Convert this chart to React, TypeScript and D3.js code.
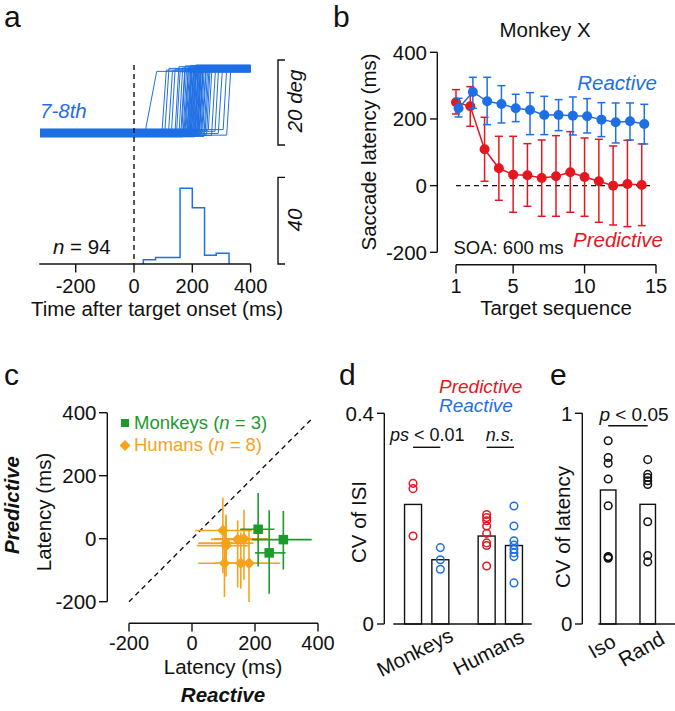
import React from "react";
import * as d3 from "d3";

const FONT = "'Liberation Sans', Arial, Helvetica, sans-serif";
const BLUE = "#1f6fe4";
const RED = "#e6161f";
const GREEN = "#1c9a2c";
const ORANGE = "#f7a21c";
const INK = "#111";

// ---------- panel a ----------
const aTicks = [-200, 0, 200, 400];
const traceLatency = [38, 95, 106, 118, 129, 140, 146, 155, 160, 164, 168, 172, 175, 178, 181, 184, 186, 188, 190, 192, 194, 196, 198, 200, 202, 204, 206, 208, 210, 212, 214, 216, 218, 220, 222, 224, 226, 229, 232, 236, 240, 244, 249, 255, 266, 278, 289, 306, 318];
const traceStartDeg = [0.2, -0.6, 0.5, -0.3, 0.8, -0.8, 0.1, 0.6, -0.5, 0.3, -0.9, 0.7, -0.2, 0.4, -0.7, 0.9, 0.0, -0.4, 0.6, -0.8, 0.3, -0.1, 0.5, -0.6, 0.8, -0.3, 0.2, -0.9, 0.4, 0.7, -0.5, 0.1, -0.2, 0.6, -0.7, 0.3, 0.9, -0.4, 0.0, 0.5, -0.8, 0.2, -0.3, 0.7, -0.6, 0.4, -0.1, 0.8, -0.5];
const traceEndDeg = [14.5, 14.8, 15.2, 14.6, 15.0, 15.6, 14.4, 15.3, 14.9, 15.8, 14.7, 15.1, 15.5, 14.3, 15.9, 14.8, 15.2, 15.6, 14.6, 15.0, 15.4, 14.9, 16.0, 14.5, 15.3, 15.7, 14.8, 15.1, 15.5, 14.4, 15.9, 15.2, 14.7, 15.6, 15.0, 14.6, 15.8, 15.3, 14.9, 15.4, 14.5, 15.7, 15.1, 14.8, 15.5, 15.0, 14.6, 15.3, 14.9];
const traceDurMs = [40, 16, 14, 14, 12, 14, 12, 12, 14, 12, 12, 14, 12, 12, 14, 12, 12, 12, 14, 12, 12, 12, 14, 12, 12, 12, 14, 12, 12, 12, 14, 12, 12, 12, 14, 12, 12, 12, 14, 12, 12, 14, 12, 12, 14, 12, 14, 12, 14];
const histEdges = [32, 74, 116, 158, 200, 242, 282, 326];
const histCounts = [2, 3, 3, 35, 26, 4, 5];

// ---------- panel b ----------
const seq = [1, 2, 3, 4, 5, 6, 7, 8, 9, 10, 11, 12, 13, 14];
const predMean = [250, 238, 109, 52, 33, 31, 23, 28, 40, 26, 13, 0, 5, 2];
const predLo = [215, 178, 13, -44, -80, -62, -92, -92, -80, -92, -110, -118, -123, -120];
const predHi = [288, 297, 205, 148, 148, 126, 137, 150, 162, 143, 139, 119, 136, 125];
const reactMean = [232, 281, 253, 245, 232, 227, 212, 212, 210, 208, 198, 190, 193, 185];
const reactLo = [206, 232, 183, 188, 192, 153, 153, 165, 152, 158, 147, 128, 137, 125];
const reactHi = [262, 325, 325, 300, 274, 279, 268, 258, 266, 261, 249, 248, 248, 244];
const bTicksX = [1, 5, 10, 15];
const bTicksY = [-200, 0, 200, 400];

// ---------- panel c ----------
const cTicks = [-200, 0, 200, 400];
const monkeyReact = [210, 290, 245];
const monkeyPred = [30, -3, -45];
const monkeyReactLo = [153, 190, 200];
const monkeyReactHi = [262, 380, 297];
const monkeyPredLo = [-88, -98, -175];
const monkeyPredHi = [145, 88, 90];
const humanReact = [98, 108, 108, 145, 165, 103, 155, 181];
const humanPred = [26, -14, -22, -2, 0, -78, -78, -78];
const humanReactLo = [10, 20, 15, 60, 70, 20, 70, 95];
const humanReactHi = [190, 195, 180, 225, 240, 190, 240, 280];
const humanPredLo = [-110, -120, -90, -155, -130, -185, -158, -201];
const humanPredHi = [130, 77, 70, 58, 92, 40, 20, 30];

// ---------- panel d ----------
const dGroups = ["Monkeys", "Humans"];
const dPredBars = [0.227, 0.167];
const dReactBars = [0.122, 0.149];
const monkeyPredCV = [0.267, 0.257, 0.167];
const monkeyReactCV = [0.145, 0.122, 0.104];
const humanPredCV = [0.208, 0.202, 0.196, 0.186, 0.172, 0.154, 0.149, 0.11];
const humanReactCV = [0.224, 0.186, 0.158, 0.15, 0.142, 0.135, 0.128, 0.078];
const dTicks = [0, 0.4];

// ---------- panel e ----------
const eCats = ["Iso", "Rand"];
const eBars = [0.636, 0.568];
const isoCV = [0.87, 0.79, 0.763, 0.688, 0.561, 0.32, 0.316, 0.312];
const randCV = [0.78, 0.71, 0.695, 0.68, 0.662, 0.485, 0.325, 0.295];
const eTicks = [0, 1];

const txt = { fontFamily: FONT, fill: INK } as const;

function PanelA() {
  const x = d3.scaleLinear().domain([0, 200]).range([134, 192.3]);
  const yDeg = d3.scaleLinear().domain([0, 20]).range([133, 48]);
  const yHist = d3.scaleLinear().domain([0, 40]).range([264, 177.4]);
  const line = d3.line<[number, number]>().x((d) => x(d[0])).y((d) => yDeg(d[1]));
  const traces = traceLatency.map((lat, i) =>
    line([
      [-322, traceStartDeg[i]],
      [lat, traceStartDeg[i]],
      [lat + traceDurMs[i], traceEndDeg[i]],
      [400, traceEndDeg[i]],
    ])
  );
  let hp = `M${x(histEdges[0])},${yHist(0)}`;
  histCounts.forEach((c, i) => {
    hp += `L${x(histEdges[i])},${yHist(c)}L${x(histEdges[i + 1])},${yHist(c)}`;
  });
  hp += `L${x(histEdges[histEdges.length - 1])},${yHist(0)}`;
  return (
    <g>
      <text x={4} y={27} fontSize={30} {...txt}>a</text>
      {traces.map((d, i) => (
        <path key={i} d={d || ""} fill="none" stroke={BLUE} strokeWidth={1} />
      ))}
      <text x={40} y={118} fontSize={20.5} fontStyle="italic" fontFamily={FONT} fill={BLUE}>7-8th</text>
      <line x1={x(0)} x2={x(0)} y1={65} y2={264} stroke={INK} strokeWidth={1.4} strokeDasharray="5,4" />
      <path d={hp} fill="none" stroke={BLUE} strokeWidth={1.5} />
      <line x1={x(-325)} x2={x(400)} y1={264} y2={264} stroke={INK} strokeWidth={1.4} />
      {aTicks.map((t) => (
        <g key={t}>
          <line x1={x(t)} x2={x(t)} y1={264} y2={272.5} stroke={INK} strokeWidth={1.4} />
          <text x={x(t)} y={292.5} fontSize={20} textAnchor="middle" {...txt}>{t}</text>
        </g>
      ))}
      <text x={157} y={315.5} fontSize={20.5} textAnchor="middle" {...txt}>Time after target onset (ms)</text>
      <text x={53} y={253.5} fontSize={20.5} {...txt}>
        <tspan fontStyle="italic">n</tspan> = 94
      </text>
      {/* scale bars */}
      <path d={`M285,${yDeg(20) + 12}H278V${yDeg(0) + 12}H285`} fill="none" stroke={INK} strokeWidth={1.4} />
      <text transform={`translate(301.5,101) rotate(-90)`} fontSize={20.5} fontStyle="italic" textAnchor="middle" {...txt}>20 deg</text>
      <path d={`M285,${yHist(40)}H278V${yHist(0)}H285`} fill="none" stroke={INK} strokeWidth={1.4} />
      <text transform={`translate(301.5,220) rotate(-90)`} fontSize={20.5} fontStyle="italic" textAnchor="middle" {...txt}>40</text>
    </g>
  );
}

function PanelB() {
  const x = d3.scaleLinear().domain([1, 15]).range([456, 656]);
  const y = d3.scaleLinear().domain([-200, 400]).range([252.3, 52.3]);
  const off = 0.18;
  const series = [
    { mean: predMean, lo: predLo, hi: predHi, color: RED, dx: 0 },
    { mean: reactMean, lo: reactLo, hi: reactHi, color: BLUE, dx: off },
  ];
  return (
    <g>
      <text x={333} y={27} fontSize={30} {...txt}>b</text>
      <text x={545} y={36.5} fontSize={20.5} textAnchor="middle" {...txt}>Monkey X</text>
      <line x1={437.3} x2={437.3} y1={y(400)} y2={y(-200)} stroke={INK} strokeWidth={1.4} />
      {bTicksY.map((t) => (
        <g key={t}>
          <line x1={430} x2={437.3} y1={y(t)} y2={y(t)} stroke={INK} strokeWidth={1.4} />
          <text x={427} y={y(t)} dy="0.36em" fontSize={20.5} textAnchor="end" {...txt}>{t}</text>
        </g>
      ))}
      <text transform={`translate(375.5,152) rotate(-90)`} fontSize={20.5} textAnchor="middle" {...txt}>Saccade latency (ms)</text>
      <line x1={x(1)} x2={x(15)} y1={264.7} y2={264.7} stroke={INK} strokeWidth={1.4} />
      {bTicksX.map((t) => (
        <g key={t}>
          <line x1={x(t)} x2={x(t)} y1={264.7} y2={273.5} stroke={INK} strokeWidth={1.4} />
          <text x={x(t)} y={292.5} fontSize={20} textAnchor="middle" {...txt}>{t}</text>
        </g>
      ))}
      <text x={556} y={314.5} fontSize={20.5} textAnchor="middle" {...txt}>Target sequence</text>
      <line x1={x(1)} x2={x(14.8)} y1={y(0)} y2={y(0)} stroke={INK} strokeWidth={1.4} strokeDasharray="5,4" />
      {series.map((s, si) => {
        const pts = seq.map((q, i) => [x(q + s.dx), y(s.mean[i])] as [number, number]);
        return (
          <g key={si}>
            {seq.map((q, i) => {
              const cx = x(q + s.dx);
              return (
                <g key={i} stroke={s.color} strokeWidth={1.5}>
                  <line x1={cx} x2={cx} y1={y(s.lo[i])} y2={y(s.hi[i])} />
                  <line x1={cx - 4} x2={cx + 4} y1={y(s.lo[i])} y2={y(s.lo[i])} />
                  <line x1={cx - 4} x2={cx + 4} y1={y(s.hi[i])} y2={y(s.hi[i])} />
                </g>
              );
            })}
            <path d={d3.line()(pts) || ""} fill="none" stroke={s.color} strokeWidth={1.5} />
            {pts.map((p, i) => (
              <circle key={i} cx={p[0]} cy={p[1]} r={5} fill={s.color} />
            ))}
          </g>
        );
      })}
      <text x={657} y={90} fontSize={20.5} fontStyle="italic" textAnchor="end" fontFamily={FONT} fill={BLUE}>Reactive</text>
      <text x={663} y={246.5} fontSize={20.5} fontStyle="italic" textAnchor="end" fontFamily={FONT} fill={RED}>Predictive</text>
      <text x={453.5} y={253.5} fontSize={18.5} {...txt}>SOA: 600 ms</text>
    </g>
  );
}

function PanelC() {
  const x = d3.scaleLinear().domain([-200, 400]).range([129, 318]);
  const y = d3.scaleLinear().domain([-200, 400]).range([601.7, 412.7]);
  const sq = 9.5;
  const dm = 5.8;
  const diamond = (cx: number, cy: number, r: number) => `M${cx},${cy - r}L${cx + r},${cy}L${cx},${cy + r}L${cx - r},${cy}Z`;
  return (
    <g>
      <text x={4} y={385} fontSize={30} {...txt}>c</text>
      <line x1={107.3} x2={107.3} y1={y(400)} y2={y(-200)} stroke={INK} strokeWidth={1.4} />
      {cTicks.map((t) => (
        <g key={"y" + t}>
          <line x1={99} x2={107.3} y1={y(t)} y2={y(t)} stroke={INK} strokeWidth={1.4} />
          <text x={96.5} y={y(t)} dy="0.36em" fontSize={20.5} textAnchor="end" {...txt}>{t}</text>
        </g>
      ))}
      <line x1={x(-200)} x2={x(400)} y1={623.3} y2={623.3} stroke={INK} strokeWidth={1.4} />
      {cTicks.map((t) => (
        <g key={"x" + t}>
          <line x1={x(t)} x2={x(t)} y1={623.3} y2={631.5} stroke={INK} strokeWidth={1.4} />
          <text x={x(t)} y={650} fontSize={20} textAnchor="middle" {...txt}>{t}</text>
        </g>
      ))}
      <text x={223} y={673.5} fontSize={20.5} textAnchor="middle" {...txt}>Latency (ms)</text>
      <text x={223} y={702} fontSize={20.5} fontWeight="bold" fontStyle="italic" textAnchor="middle" {...txt}>Reactive</text>
      <text transform={`translate(50.5,512) rotate(-90)`} fontSize={20.5} textAnchor="middle" {...txt}>Latency (ms)</text>
      <text transform={`translate(18.5,505) rotate(-90)`} fontSize={20.5} fontWeight="bold" fontStyle="italic" textAnchor="middle" {...txt}>Predictive</text>
      <line x1={x(-200)} x2={x(385)} y1={y(-200)} y2={y(385)} stroke={INK} strokeWidth={1.4} strokeDasharray="5,4" />
      {humanReact.map((v, i) => (
        <g key={"h" + i} stroke={ORANGE} strokeWidth={1.6}>
          <line x1={x(humanReactLo[i])} x2={x(humanReactHi[i])} y1={y(humanPred[i])} y2={y(humanPred[i])} />
          <line x1={x(v)} x2={x(v)} y1={y(humanPredLo[i])} y2={y(humanPredHi[i])} />
        </g>
      ))}
      {monkeyReact.map((v, i) => (
        <g key={"m" + i} stroke={GREEN} strokeWidth={1.6}>
          <line x1={x(monkeyReactLo[i])} x2={x(monkeyReactHi[i])} y1={y(monkeyPred[i])} y2={y(monkeyPred[i])} />
          <line x1={x(v)} x2={x(v)} y1={y(monkeyPredLo[i])} y2={y(monkeyPredHi[i])} />
        </g>
      ))}
      {humanReact.map((v, i) => (
        <path key={"hd" + i} d={diamond(x(v), y(humanPred[i]), dm)} fill={ORANGE} />
      ))}
      {monkeyReact.map((v, i) => (
        <rect key={"ms" + i} x={x(v) - sq / 2} y={y(monkeyPred[i]) - sq / 2} width={sq} height={sq} fill={GREEN} />
      ))}
      <rect x={121} y={419} width={8} height={8} fill={GREEN} />
      <text x={134} y={428.5} fontSize={18.5} fontFamily={FONT} fill={GREEN}>
        Monkeys (<tspan fontStyle="italic">n</tspan> = 3)
      </text>
      <path d={diamond(125, 445.5, 5.5)} fill={ORANGE} />
      <text x={134} y={451} fontSize={18.5} fontFamily={FONT} fill={ORANGE}>
        Humans (<tspan fontStyle="italic">n</tspan> = 8)
      </text>
    </g>
  );
}

function PanelD() {
  const y = d3.scaleLinear().domain([0, 0.4]).range([624, 413.3]);
  const g = d3.scaleBand().domain(dGroups).range([389.9, 537.1]);
  const off = 13.65;
  const bw = 17;
  const cx = (grp: string) => (g(grp) as number) + g.bandwidth() / 2;
  const dots = [
    { grp: "Monkeys", dx: -off, vals: monkeyPredCV, color: RED },
    { grp: "Monkeys", dx: off, vals: monkeyReactCV, color: BLUE },
    { grp: "Humans", dx: -off, vals: humanPredCV, color: RED },
    { grp: "Humans", dx: off, vals: humanReactCV, color: BLUE },
  ];
  return (
    <g>
      <text x={339} y={385} fontSize={30} {...txt}>d</text>
      <text x={439} y={393} fontSize={19} fontStyle="italic" fontFamily={FONT} fill={RED}>Predictive</text>
      <text x={439} y={412} fontSize={19} fontStyle="italic" fontFamily={FONT} fill={BLUE}>Reactive</text>
      <line x1={384.3} x2={384.3} y1={y(0.4)} y2={y(0)} stroke={INK} strokeWidth={1.4} />
      {dTicks.map((t) => (
        <g key={t}>
          <line x1={377} x2={384.3} y1={y(t)} y2={y(t)} stroke={INK} strokeWidth={1.4} />
          <text x={374} y={y(t)} dy="0.36em" fontSize={20.5} textAnchor="end" {...txt}>{t}</text>
        </g>
      ))}
      <text transform={`translate(366,522) rotate(-90)`} fontSize={20.5} textAnchor="middle" {...txt}>CV of ISI</text>
      {dGroups.map((grp, i) => (
        <g key={grp}>
          <rect x={cx(grp) - off - bw / 2} y={y(dPredBars[i])} width={bw} height={y(0) - y(dPredBars[i])} fill="#fff" stroke={INK} strokeWidth={1.4} />
          <rect x={cx(grp) + off - bw / 2} y={y(dReactBars[i])} width={bw} height={y(0) - y(dReactBars[i])} fill="#fff" stroke={INK} strokeWidth={1.4} />
          <line x1={cx(grp) - off} x2={cx(grp) + off} y1={447.3} y2={447.3} stroke={INK} strokeWidth={1.4} />
          <text transform={`translate(${cx(grp) - 12},652) rotate(-27)`} fontSize={20.5} textAnchor="middle" dominantBaseline="central" {...txt}>{grp}</text>
        </g>
      ))}
      <line x1={393.3} x2={531.7} y1={624} y2={624} stroke={INK} strokeWidth={1.4} />
      {dots.map((s, si) =>
        s.vals.map((v, i) => (
          <circle key={si + "-" + i} cx={cx(s.grp) + s.dx} cy={y(v)} r={3.8} fill="none" stroke={s.color} strokeWidth={1.5} />
        ))
      )}
      <text x={390} y={440.5} fontSize={18} {...txt}>
        <tspan fontStyle="italic">ps</tspan> &lt; 0.01
      </text>
      <text x={cx("Humans")} y={440.5} fontSize={18} fontStyle="italic" textAnchor="middle" {...txt}>n.s.</text>
    </g>
  );
}

function PanelE() {
  const y = d3.scaleLinear().domain([0, 1]).range([624, 413.3]);
  const b = d3.scaleBand().domain(eCats).range([588.4, 667.5]);
  const cx = (c: string) => (b(c) as number) + b.bandwidth() / 2;
  const bw = 15.5;
  const dotSets = [isoCV, randCV];
  return (
    <g>
      <text x={550} y={385} fontSize={30} {...txt}>e</text>
      <line x1={582.3} x2={582.3} y1={y(1)} y2={y(0)} stroke={INK} strokeWidth={1.4} />
      {eTicks.map((t) => (
        <g key={t}>
          <line x1={575} x2={582.3} y1={y(t)} y2={y(t)} stroke={INK} strokeWidth={1.4} />
          <text x={572.5} y={y(t)} dy="0.36em" fontSize={20.5} textAnchor="end" {...txt}>{t}</text>
        </g>
      ))}
      <text transform={`translate(570,527) rotate(-90)`} fontSize={20.5} textAnchor="middle" {...txt}>CV of latency</text>
      {eCats.map((c, i) => (
        <g key={c}>
          <rect x={cx(c) - bw / 2} y={y(eBars[i])} width={bw} height={y(0) - y(eBars[i])} fill="#fff" stroke={INK} strokeWidth={1.4} />
          {dotSets[i].map((v, j) => (
            <circle key={j} cx={cx(c)} cy={y(v)} r={3.8} fill="none" stroke={INK} strokeWidth={1.5} />
          ))}
          <text transform={`translate(${cx(c) - 6.5},${646 + i * 2.5}) rotate(-30)`} fontSize={20.5} textAnchor="middle" dominantBaseline="central" {...txt}>{c}</text>
        </g>
      ))}
      <line x1={598.3} x2={675} y1={624} y2={624} stroke={INK} strokeWidth={1.4} />
      <line x1={cx("Iso")} x2={cx("Rand")} y1={425.7} y2={425.7} stroke={INK} strokeWidth={1.4} />
      <text x={634} y={421} fontSize={19} textAnchor="middle" {...txt}>
        <tspan fontStyle="italic">p</tspan> &lt; 0.05
      </text>
    </g>
  );
}

export default function App() {
  return (
    <svg
      width={675}
      height={711}
      viewBox="0 0 675 711"
      style={{ position: "absolute", left: 0, top: 0, background: "#fff" }}
    >
      <rect width={675} height={711} fill="#fff" />
      <PanelA />
      <PanelB />
      <PanelC />
      <PanelD />
      <PanelE />
    </svg>
  );
}
